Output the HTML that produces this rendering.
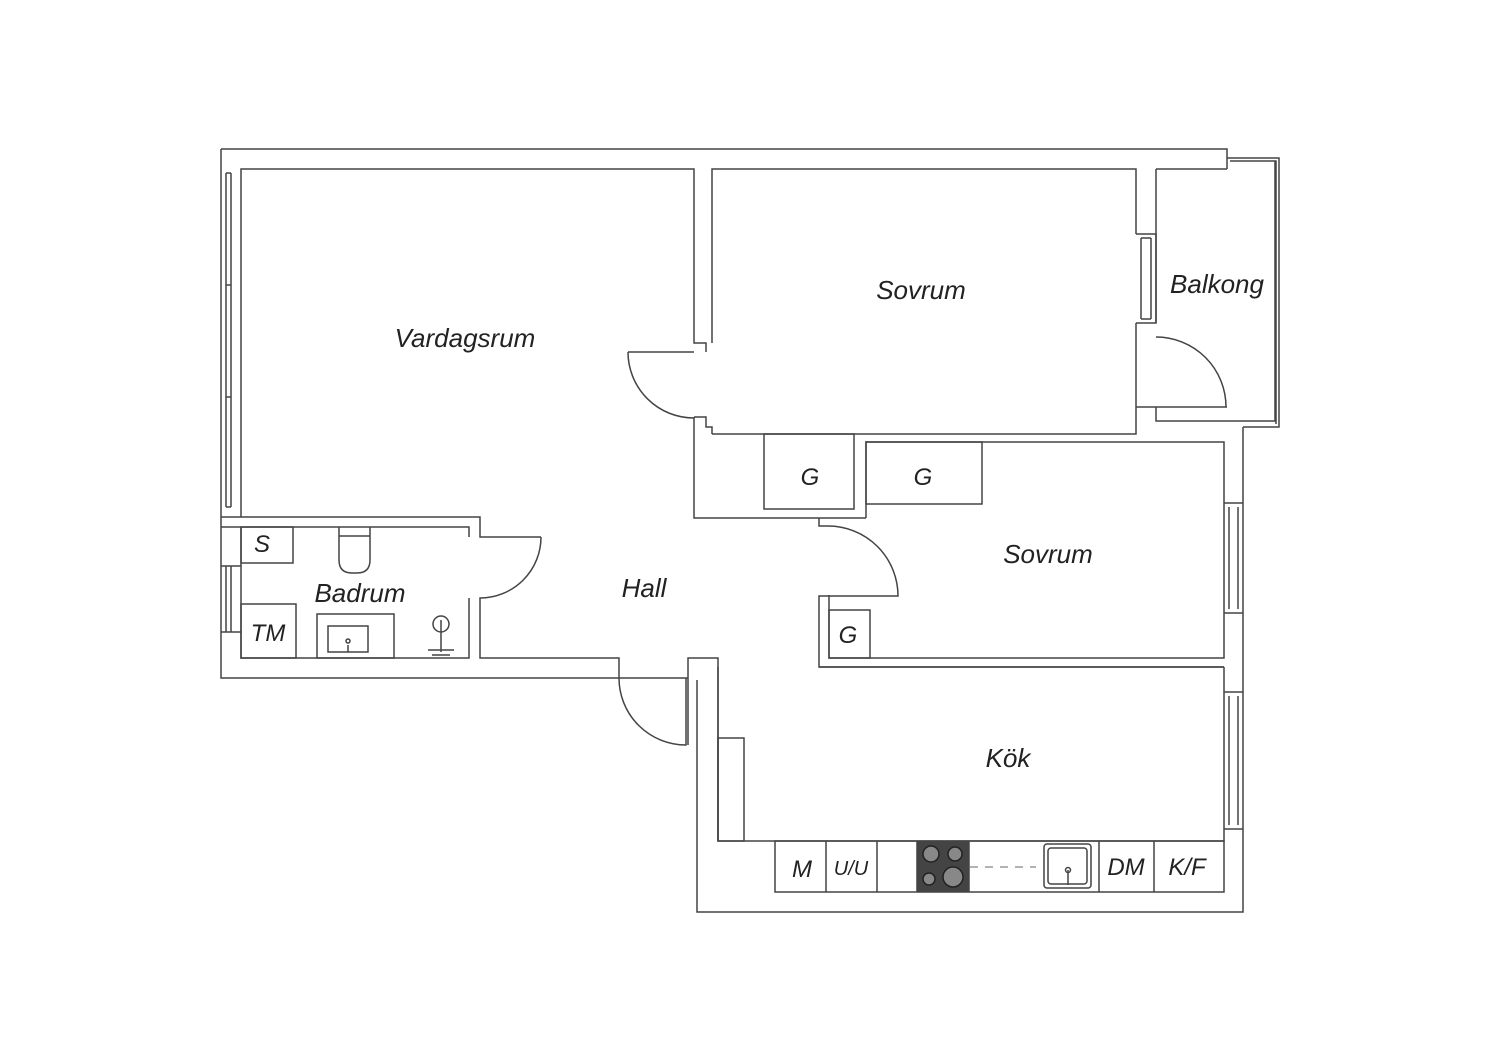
<!DOCTYPE html>
<html><head><meta charset="utf-8"><style>
html,body{margin:0;padding:0;background:#fff}
svg{display:block}
text{font-family:"Liberation Sans",sans-serif;font-style:italic;fill:#222}
</style></head><body>
<svg width="1500" height="1060" viewBox="0 0 1500 1060" xmlns="http://www.w3.org/2000/svg">
<g fill="none" stroke="#444" stroke-width="1.5">
<!-- outer -->
<path d="M221 149 H1227 V169"/>
<path d="M221 149 V678 H688"/>
<path d="M697 680 V912 H1243 V427"/>
<!-- balcony -->
<path d="M1227 158 H1279 V427 H1243"/>
<path d="M1230 161 H1276 V424"/>
<path d="M1156 169 H1227"/>
<path d="M1156 169 V323 M1156 407 V421 H1275 V161"/>
<!-- vardagsrum -->
<path d="M241 517 V169 H694 V343 H706 V352"/>
<path d="M694 352 H628"/>
<path d="M628 352 A66 66 0 0 0 694 418"/>
<path d="M694 417 V518 H866"/>
<path d="M694 417 H706 V427 H712 V434"/>
<path d="M241 517 H480 V537 H541"/>
<path d="M541 537 A61 61 0 0 1 480 598 V658 H619 V678"/>
<!-- sovrum1 -->
<path d="M712 343 V169 H1136 V234 M1136 323 V407 H1227 M1136 407 V434 H712"/>
<path d="M1156 337 A70 70 0 0 1 1226 407"/>
<!-- sovrum1/balcony window -->
<path d="M1136 234 H1156 V323 H1136 M1141 238 V319 M1151 238 V319 M1141 238 H1151 M1141 319 H1151"/>
<!-- closets -->
<rect x="764" y="434" width="90" height="75"/>
<path d="M866 518 V442 H1224 V658 H829 V595"/>
<rect x="866" y="442" width="116" height="62"/>
<path d="M819 518 V526 H828"/>
<path d="M828 526 A70 70 0 0 1 898 596 H819 V667 H1224"/>
<rect x="829" y="610" width="41" height="48"/>
<path d="M1224 503 H1243 M1224 613 H1243 M1229 507 V609 M1238 507 V609"/>
<!-- bathroom -->
<path d="M241 527 H469 V537 M469 598 V658 H241 V527"/>
<rect x="241" y="527" width="52" height="36"/>
<rect x="241" y="604" width="55" height="54"/>
<path d="M339 527 V560 Q339 573 352 573 H357 Q370 573 370 560 V527 M339 536 H370"/>
<rect x="317" y="614" width="77" height="44"/>
<rect x="328" y="626" width="40" height="26"/>
<circle cx="441" cy="624" r="8"/>
<path d="M441 620 V652 M428 650 H454 M432 655 H450 M348 645 V652"/>
<circle cx="348" cy="641" r="2"/>
<!-- left windows -->
<path d="M226 173 V507 M231 173 V507 M226 173 H231 M226 507 H231 M226 285 H231 M226 397 H231"/>
<path d="M221 517 H241 M221 527 H241"/>
<path d="M226 566 V632 M231 566 V632 M221 566 H241 M221 632 H241"/>
<!-- entrance door -->
<path d="M619 678 A67 67 0 0 0 686 745 V678"/>
<path d="M688 745 V658 H718 V841"/>
<!-- kitchen -->
<path d="M718 667 V841 H1224 V667 M819 667 H1224"/>
<rect x="718" y="738" width="26" height="103"/>
<rect x="775" y="841" width="449" height="51"/>
<path d="M826 841 V892 M877 841 V892 M917 841 V892 M969 841 V892 M1099 841 V892 M1154 841 V892"/>
<path d="M1224 692 H1243 M1224 829 H1243 M1229 696 V825 M1238 696 V825"/>
<rect x="1044" y="844" width="47" height="44" rx="3"/>
<rect x="1048" y="848" width="39" height="36" rx="3"/>
<path d="M1068 870 V885"/>
<circle cx="1068" cy="870" r="2.5"/>
<path d="M970 867 H1036" stroke="#999" stroke-dasharray="8 7"/>
</g>
<rect x="917" y="841" width="52" height="51" fill="#444"/>
<g fill="#888" stroke="#222" stroke-width="1.5">
<circle cx="931" cy="854" r="8"/><circle cx="955" cy="854" r="7"/>
<circle cx="929" cy="879" r="6"/><circle cx="953" cy="877" r="10"/>
</g>
<text x="465" y="347" font-size="26" text-anchor="middle">Vardagsrum</text>
<text x="921" y="299" font-size="26" text-anchor="middle">Sovrum</text>
<text x="1217" y="293" font-size="26" text-anchor="middle">Balkong</text>
<text x="810" y="485" font-size="24" text-anchor="middle">G</text>
<text x="923" y="485" font-size="24" text-anchor="middle">G</text>
<text x="1048" y="563" font-size="26" text-anchor="middle">Sovrum</text>
<text x="644" y="597" font-size="26" text-anchor="middle">Hall</text>
<text x="360" y="602" font-size="26" text-anchor="middle">Badrum</text>
<text x="262" y="552" font-size="24" text-anchor="middle">S</text>
<text x="268" y="641" font-size="24" text-anchor="middle">TM</text>
<text x="848" y="643" font-size="24" text-anchor="middle">G</text>
<text x="1008" y="767" font-size="26" text-anchor="middle">Kök</text>
<text x="802" y="877" font-size="24" text-anchor="middle">M</text>
<text x="851" y="875" font-size="20" text-anchor="middle">U/U</text>
<text x="1126" y="875" font-size="24" text-anchor="middle">DM</text>
<text x="1187" y="875" font-size="24" text-anchor="middle">K/F</text>
</svg>
</body></html>
